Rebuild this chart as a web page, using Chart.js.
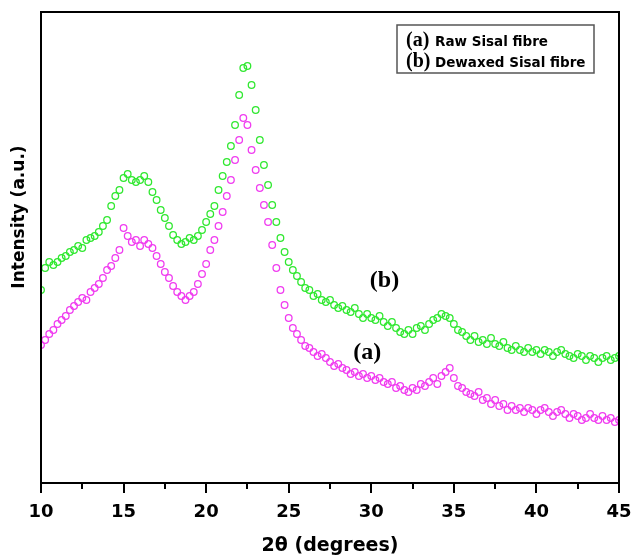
<!DOCTYPE html>
<html>
<head>
<meta charset="utf-8">
<script src="https://cdn.jsdelivr.net/npm/chart.js@4.4.1/dist/chart.umd.min.js"></script>
<style>
  html, body { margin: 0; padding: 0; background: #fff; }
  #wrap { width: 634px; height: 557px; }
</style>
</head>
<body>
<div id="wrap"><canvas id="xrdChart"></canvas></div>
<script>
// 2-theta angles (degrees)
const angles = [
  10.0, 10.25, 10.5, 10.75, 11.0, 11.25, 11.5, 11.75, 12.0, 12.25, 12.5, 12.75,
  13.0, 13.25, 13.5, 13.75, 14.0, 14.25, 14.5, 14.75, 15.0, 15.25, 15.5, 15.75,
  16.0, 16.25, 16.5, 16.75, 17.0, 17.25, 17.5, 17.75, 18.0, 18.25, 18.5, 18.75,
  19.0, 19.25, 19.5, 19.75, 20.0, 20.25, 20.5, 20.75, 21.0, 21.25, 21.5, 21.75,
  22.0, 22.25, 22.5, 22.75, 23.0, 23.25, 23.5, 23.75, 24.0, 24.25, 24.5, 24.75,
  25.0, 25.25, 25.5, 25.75, 26.0, 26.25, 26.5, 26.75, 27.0, 27.25, 27.5, 27.75,
  28.0, 28.25, 28.5, 28.75, 29.0, 29.25, 29.5, 29.75, 30.0, 30.25, 30.5, 30.75,
  31.0, 31.25, 31.5, 31.75, 32.0, 32.25, 32.5, 32.75, 33.0, 33.25, 33.5, 33.75,
  34.0, 34.25, 34.5, 34.75, 35.0, 35.25, 35.5, 35.75, 36.0, 36.25, 36.5, 36.75,
  37.0, 37.25, 37.5, 37.75, 38.0, 38.25, 38.5, 38.75, 39.0, 39.25, 39.5, 39.75,
  40.0, 40.25, 40.5, 40.75, 41.0, 41.25, 41.5, 41.75, 42.0, 42.25, 42.5, 42.75,
  43.0, 43.25, 43.5, 43.75, 44.0, 44.25, 44.5, 44.75, 45.0
];

// (a) Raw Sisal fibre - intensity (a.u.)
const rawSisal = [
  138, 143, 149, 153, 159, 163, 167, 173, 177, 181, 185, 183,
  191, 195, 199, 205, 213, 217, 225, 233, 255, 247, 241, 243,
  237, 243, 239, 235, 227, 219, 211, 205, 197, 191, 187, 183,
  187, 191, 199, 209, 219, 233, 243, 257, 271, 287, 303, 323,
  343, 365, 358, 333, 313, 295, 278, 261, 238, 215, 193, 178,
  165, 155, 149, 143, 137, 135, 131, 127, 129, 125, 121, 117,
  119, 115, 113, 109, 111, 107, 109, 105, 107, 103, 105, 101,
  99, 101, 95, 97, 93, 91, 95, 93, 99, 97, 101, 105,
  99, 107, 111, 115, 105, 97, 95, 91, 89, 87, 91, 83,
  85, 79, 83, 77, 79, 73, 77, 73, 75, 71, 75, 73,
  69, 73, 75, 71, 67, 71, 73, 69, 65, 69, 67, 63,
  65, 69, 65, 63, 67, 63, 65, 61, 63
];

// (b) Dewaxed Sisal fibre - intensity (a.u.)
const dewaxedSisal = [
  193, 215, 221, 218, 221, 225, 227, 231, 233, 237, 235, 243,
  245, 247, 251, 257, 263, 277, 287, 293, 305, 309, 303, 301,
  303, 307, 301, 291, 283, 273, 265, 257, 248, 243, 239, 241,
  245, 243, 247, 253, 261, 269, 277, 293, 307, 321, 337, 358,
  388, 415, 417, 398, 373, 343, 318, 298, 278, 261, 245, 231,
  221, 213, 207, 201, 195, 193, 187, 189, 183, 181, 183, 178,
  175, 177, 173, 171, 175, 169, 165, 169, 165, 163, 167, 161,
  157, 161, 155, 151, 149, 153, 149, 155, 157, 153, 159, 163,
  165, 169, 167, 165, 159, 153, 151, 147, 143, 147, 141, 143,
  139, 145, 139, 137, 141, 135, 133, 137, 133, 131, 135, 131,
  133, 129, 133, 131, 127, 131, 133, 129, 127, 125, 129, 127,
  123, 127, 125, 121, 125, 127, 123, 125, 127
];

const xTickValues = [10, 15, 20, 25, 30, 35, 40, 45];
const seriesNames = ['Raw Sisal fibre', 'Dewaxed Sisal fibre'];
const seriesTags = ['(a)', '(b)'];
// where the (a)/(b) tags sit next to the curves, in data units [angle, intensity]
const curveTags = [[29.75, 130], [30.8, 202]];

const rawColor = '#f03cf0';
const dewaxedColor = '#30e830';

function toPoints(values) {
  return angles.map((a, i) => ({ x: a, y: values[i] }));
}

// frame, ticks, axis title, legend box and curve tags
const decorations = {
  id: 'decorations',
  afterDraw(chart) {
    const ctx = chart.ctx;
    const area = chart.chartArea;
    const xs = chart.scales.x;
    const ys = chart.scales.y;
    ctx.save();

    // frame
    ctx.strokeStyle = '#000';
    ctx.lineWidth = 2;
    ctx.strokeRect(area.left, area.top, area.right - area.left, area.bottom - area.top);

    // major + minor ticks on the bottom axis
    ctx.beginPath();
    for (let v = 10; v <= 45; v += 2.5) {
      const px = Math.round(xs.getPixelForValue(v));
      const len = (v % 5 === 0) ? 10 : 6;
      ctx.moveTo(px, area.bottom);
      ctx.lineTo(px, area.bottom + len);
    }
    ctx.stroke();

    // y axis title
    ctx.fillStyle = '#000';
    ctx.font = 'bold 17px "DejaVu Sans"';
    ctx.textAlign = 'center';
    ctx.textBaseline = 'middle';
    ctx.translate(20, area.top + 205);
    ctx.rotate(-Math.PI / 2);
    ctx.fillText('Intensity (a.u.)', 0, 0);
    ctx.setTransform(1, 0, 0, 1, 0, 0);

    // legend box
    const bx = area.right - 222, by = area.top + 13;
    ctx.strokeStyle = '#555';
    ctx.lineWidth = 1.5;
    ctx.strokeRect(bx, by, 197, 48);
    ctx.textAlign = 'left';
    ctx.textBaseline = 'alphabetic';
    seriesTags.forEach((tag, i) => {
      const base = by + 21 + i * 21;
      ctx.font = 'bold 20px "Liberation Serif"';
      ctx.fillText(tag, bx + 9, base);
      ctx.font = 'bold 13.5px "DejaVu Sans"';
      ctx.fillText(seriesNames[i], bx + 38, base);
    });

    // tags next to the curves
    ctx.font = 'bold 24px "Liberation Serif"';
    ctx.textAlign = 'center';
    ctx.textBaseline = 'middle';
    seriesTags.forEach((tag, i) => {
      const [a, v] = curveTags[i];
      ctx.fillText(tag, xs.getPixelForValue(a), ys.getPixelForValue(v));
    });

    ctx.restore();
  }
};

const ctx = document.getElementById('xrdChart').getContext('2d');
const xrdChart = new Chart(ctx, {
  type: 'scatter',
  data: {
    datasets: [
      {
        label: seriesNames[0],
        data: toPoints(rawSisal),
        borderColor: rawColor,
        backgroundColor: 'rgba(255,255,255,0)',
        pointRadius: 3.3,
        pointBorderWidth: 1.3,
        showLine: false
      },
      {
        label: seriesNames[1],
        data: toPoints(dewaxedSisal),
        borderColor: dewaxedColor,
        backgroundColor: 'rgba(255,255,255,0)',
        pointRadius: 3.3,
        pointBorderWidth: 1.3,
        showLine: false
      }
    ]
  },
  options: {
    responsive: true,
    maintainAspectRatio: false,
    animation: false,
    layout: { padding: { top: 12, right: 0, left: 0, bottom: 0 } },
    plugins: {
      legend: { display: false },
      tooltip: { enabled: false }
    },
    scales: {
      x: {
        type: 'linear',
        min: 10,
        max: 45,
        afterBuildTicks: scale => {
          scale.ticks = xTickValues.map(v => ({ value: v }));
        },
        grid: { display: false, drawTicks: false },
        border: { display: false },
        ticks: {
          padding: 19,
          color: '#000',
          maxRotation: 0,
          font: { family: 'DejaVu Sans', size: 18, weight: 'bold' }
        },
        title: {
          display: true,
          text: '2θ (degrees)',
          color: '#000',
          padding: { top: 2, bottom: 0 },
          font: { family: 'DejaVu Sans', size: 19, weight: 'bold' }
        },
        afterFit: scale => {
          scale.height = 74;
          scale.paddingLeft = 0;
          scale.paddingRight = 15;
        }
      },
      y: {
        min: 0,
        max: 471,
        grid: { display: false, drawTicks: false },
        border: { display: false },
        ticks: { display: false },
        afterFit: scale => { scale.width = 41; }
      }
    }
  },
  plugins: [decorations]
});
</script>
</body>
</html>
